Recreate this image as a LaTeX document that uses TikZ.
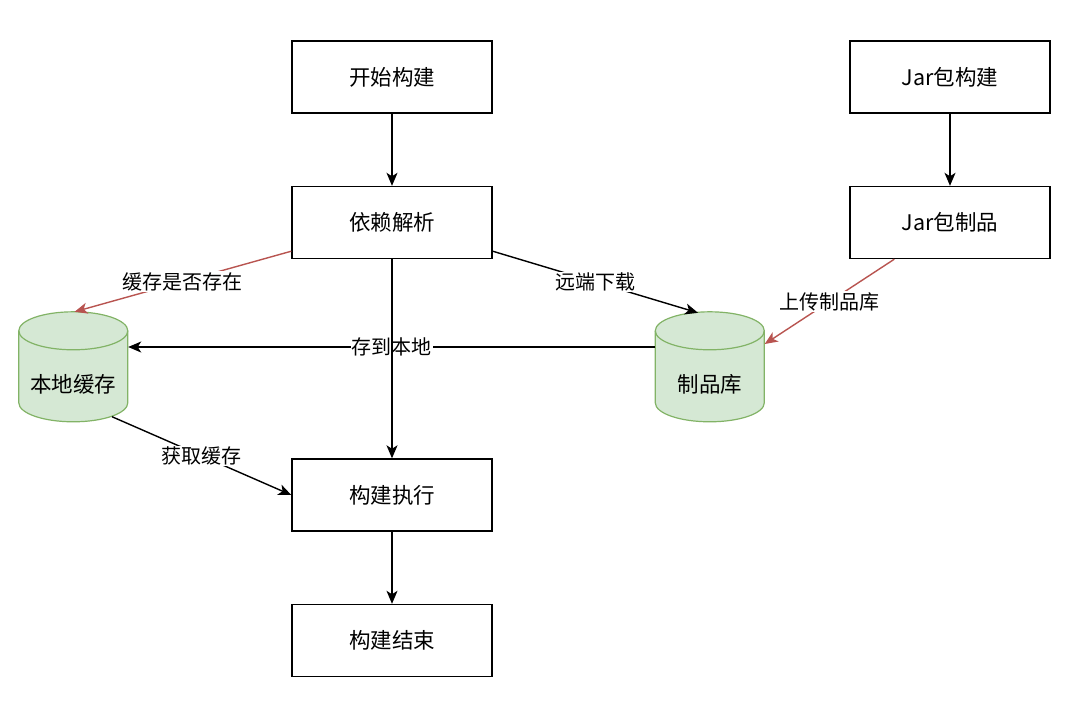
\documentclass[tikz,border=0pt]{standalone}
\usepackage{fontspec}
\setmainfont{Noto Sans CJK SC}
\usetikzlibrary{positioning,calc,arrows.meta}
\definecolor{storefill}{HTML}{D5E8D4}
\definecolor{storeline}{HTML}{82B366}
\definecolor{checkred}{HTML}{B85450}

\begin{document}
\begin{tikzpicture}[x=1pt,y=-1pt,
		box/.style={draw,line width=1.4pt,minimum width=200pt,minimum height=72pt,font=\fontsize{21.5}{24}\selectfont},
		store/.style={minimum width=109pt,minimum height=110pt,inner sep=0pt},
		storeshape/.style={draw=storeline,fill=storefill,line width=1.2pt},
		storetext/.style={font=\fontsize{21.5}{24}\selectfont},
		arr/.style={line width=1.4pt,-{Stealth[length=13pt,width=11pt,inset=3.5pt]}},
		redarr/.style={arr,draw=checkred,color=checkred},
		lbl/.style={fill=white,inner sep=1pt,text=black,font=\fontsize{20}{22}\selectfont}]
		\useasboundingbox (0,0) rectangle (1080,702);
		\node[box] (start) at (392,77) {开始构建};
		\node[box] (parse) at (392,222.5) {依赖解析};
		\node[box] (exec) at (392,495) {构建执行};
		\node[box] (finish) at (392,640.5) {构建结束};
		\node[box] (jarbuild) at (950,77) {Jar包构建};
		\node[box] (jarpkg) at (950,222.5) {Jar包制品};
		% the two stores
		\node[store] (cache) at (73.5,367) {};
		\node[store] (repo) at (710,367) {};
		\foreach \s in {cache,repo}{
			\path[storeshape] ($(\s.north west)+(0,19)$) -- ++(0,72) arc[start angle=180,end angle=0,x radius=54.5,y radius=19] -- ++(0,-72) arc[start angle=0,end angle=-180,x radius=54.5,y radius=19] -- cycle;
			\draw[storeline,line width=1.2pt] ($(\s.north west)+(0,19)$) arc[start angle=180,end angle=0,x radius=54.5,y radius=19];
		}
		\node[storetext] (cachetext) at ($(cache)+(0,17)$) {本地缓存};
		\node[storetext] (repotext) at ($(repo)+(0,17)$) {制品库};
		\draw[arr] (start) -- (parse);
		\draw[arr] (jarbuild) -- (jarpkg);
		\draw[arr] (exec) -- (finish);
		\draw[arr] (repo.west |- 0,347) -- node[lbl] {存到本地} (cache.east |- 0,347);
		\draw[arr] (parse) -- (exec);
		\draw[redarr] ($(parse.south west)+(0,-8)$) -- node[lbl] {缓存是否存在} ($(cache.north)+(1,0)$);
		\draw[arr] ($(parse.south east)+(0,-8)$) -- node[lbl] {远端下载} ($(repo.north)+(-12,1)$);
		\draw[redarr] ($(jarpkg.south west)+(45,0)$) -- node[lbl] {上传制品库} ($(repo.east)+(0,-23)$);
		\draw[arr] ($(cache.south)+(38.5,-5.5)$) -- node[lbl] {获取缓存} (exec.west);
	\end{tikzpicture}
\end{document}
